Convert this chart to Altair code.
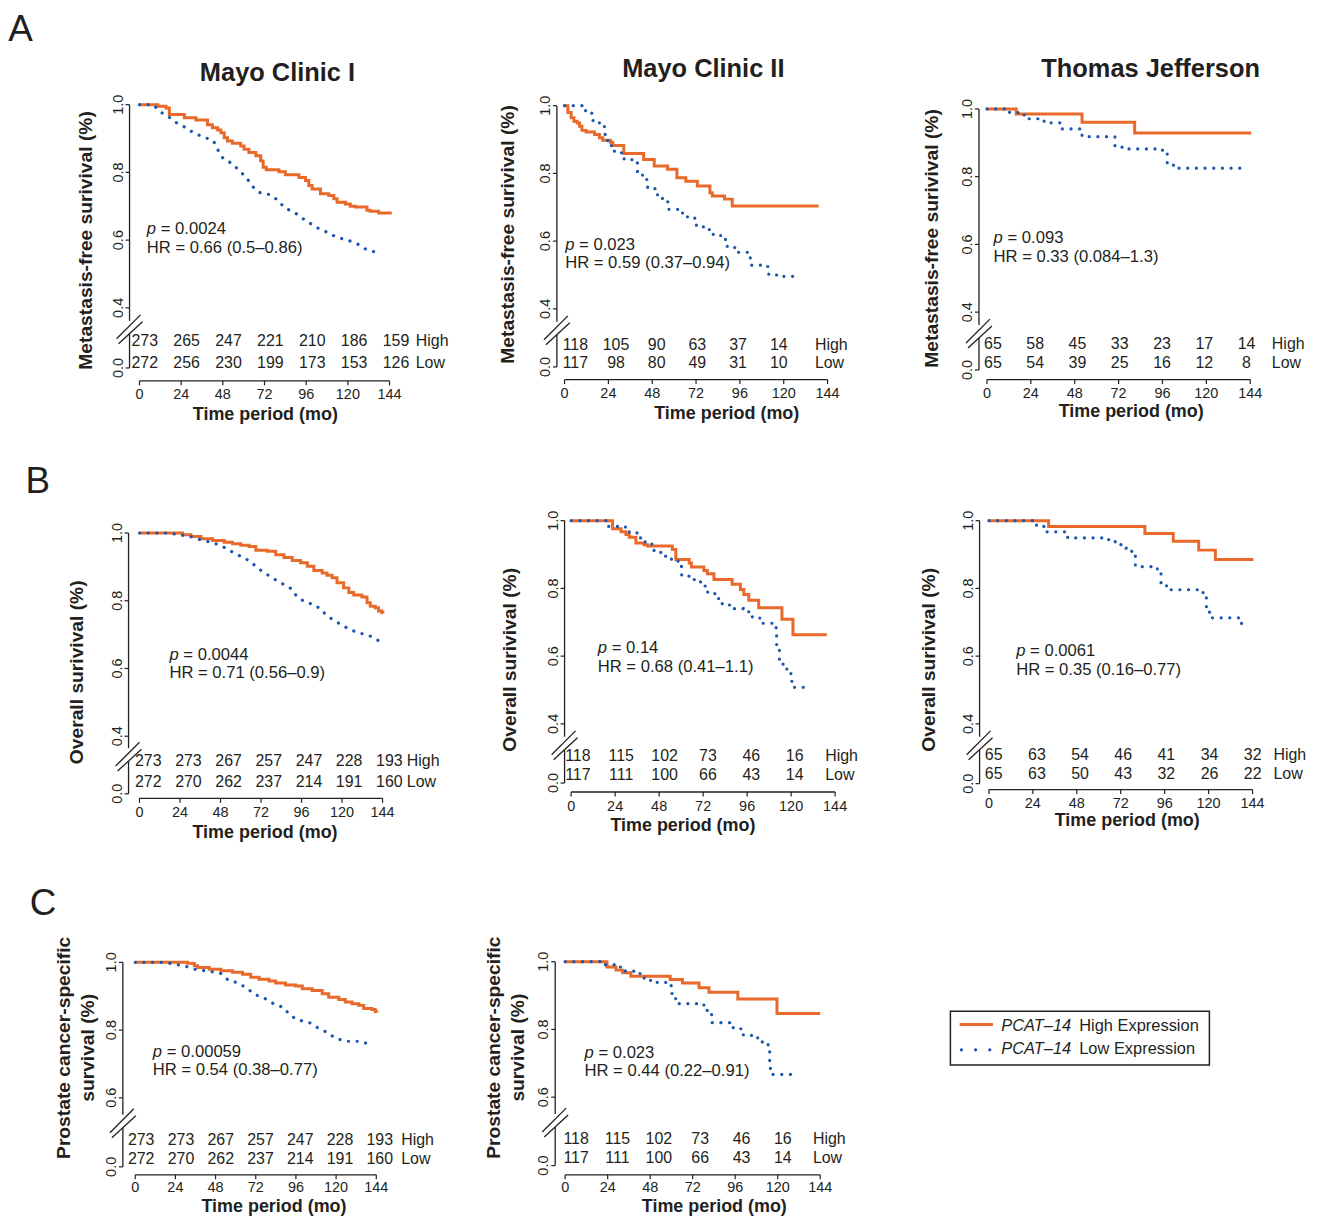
import altair as alt
import pandas as pd

FONT = "Liberation Sans"
INK = "#231F20"
ORANGE = "#E8692A"
BLUE = "#1B56AE"

# ---------------- shared labels ----------------
TICK_MONTHS = [0, 24, 48, 72, 96, 120, 144]
RISK_GROUPS = ["High", "Low"]
X_TITLE = "Time period (mo)"
Y_TITLE_MFS = "Metastasis-free surivival (%)"
Y_TITLE_OS = "Overall surivival (%)"
Y_TITLE_PCSS = ["Prostate cancer-specific", "survival (%)"]
GENE = "PCAT\u201314"
LEGEND_LABELS = ["High Expression", "Low Expression"]

# ---------------- A: metastasis-free survival ----------------
MFS_MAYO1_HIGH_T = [0, 10.5, 15.3, 17.2, 25.8, 32.5, 39.2, 42, 45, 46.9, 48.8, 50.7, 53.5, 58.3, 60.2, 63, 67,
                    69.8, 71.2, 73, 80.3, 84, 91.8, 95.6, 97.5, 99.4, 104.2, 109, 111.9, 113.8, 118.6, 121.4,
                    124.3, 131, 132.9, 137.7, 144.4]
MFS_MAYO1_HIGH_S = [1.0, 0.995, 0.99, 0.971, 0.961, 0.955, 0.941, 0.932, 0.925, 0.917, 0.902, 0.893, 0.886,
                    0.878, 0.868, 0.859, 0.849, 0.834, 0.815, 0.808, 0.802, 0.793, 0.785, 0.776, 0.761, 0.751,
                    0.737, 0.732, 0.722, 0.712, 0.707, 0.700, 0.698, 0.688, 0.685, 0.680, 0.676]
MFS_MAYO1_LOW_T = [0, 8.0, 11.5, 16.8, 21.4, 26.8, 31.6, 37.3, 42.6, 45.3, 48.4, 53.5, 57.4, 61.6, 64.6, 68.8,
                   75.5, 79.9, 83.6, 88.9, 93.7, 98.5, 103.3, 108.6, 113.8, 120.5, 126.2, 131.0, 137.3]
MFS_MAYO1_LOW_S = [1.0, 1.0, 0.980, 0.964, 0.946, 0.932, 0.915, 0.904, 0.893, 0.865, 0.839, 0.826, 0.805, 0.785,
                   0.761, 0.741, 0.734, 0.717, 0.695, 0.683, 0.665, 0.649, 0.634, 0.622, 0.608, 0.599, 0.587,
                   0.571, 0.563]
MFS_MAYO1_RISK_HIGH = [273, 265, 247, 221, 210, 186, 159]
MFS_MAYO1_RISK_LOW = [272, 256, 230, 199, 173, 153, 126]
MFS_MAYO1_P, MFS_MAYO1_HR = "0.0024", "0.66 (0.5\u20130.86)"

MFS_MAYO2_HIGH_T = [0, 1.8, 3.6, 5.1, 6.9, 8.2, 9.5, 11.8, 16.4, 19.1, 20.9, 25.1, 26.4, 32.4, 43.3, 49.1, 56.4,
                    61.5, 66.4, 72.7, 79.6, 80.9, 87.6, 91.8, 139.1]
MFS_MAYO2_HIGH_S = [1.0, 0.980, 0.964, 0.954, 0.949, 0.939, 0.927, 0.922, 0.915, 0.905, 0.898, 0.892, 0.882,
                    0.859, 0.841, 0.822, 0.812, 0.787, 0.777, 0.763, 0.743, 0.733, 0.724, 0.704, 0.704]
MFS_MAYO2_LOW_T = [0, 7.3, 11.5, 14.9, 19.1, 21.8, 23.6, 27.3, 31.5, 36.9, 40.0, 42.7, 45.5, 49.6, 53.6, 56.9,
                   62.4, 67.3, 71.3, 76.0, 81.1, 85.5, 89.1, 93.6, 101.7, 108.7, 111.8, 118.2, 126.0]
MFS_MAYO2_LOW_S = [1.0, 1.0, 0.980, 0.956, 0.939, 0.915, 0.882, 0.861, 0.843, 0.831, 0.806, 0.782, 0.755, 0.737,
                   0.716, 0.694, 0.683, 0.670, 0.647, 0.634, 0.620, 0.605, 0.581, 0.567, 0.529, 0.525, 0.500,
                   0.496, 0.496]
MFS_MAYO2_RISK_HIGH = [118, 105, 90, 63, 37, 14]
MFS_MAYO2_RISK_LOW = [117, 98, 80, 49, 31, 10]
MFS_MAYO2_P, MFS_MAYO2_HR = "0.023", "0.59 (0.37\u20130.94)"

MFS_TJ_HIGH_T = [0, 16, 52, 80.8, 144.5]
MFS_TJ_HIGH_S = [1.0, 0.985, 0.961, 0.929, 0.929]
MFS_TJ_LOW_T = [0, 12, 17, 22, 29, 35, 41, 52, 70, 75, 96, 98.6, 102, 141.6]
MFS_TJ_LOW_S = [1.0, 0.990, 0.982, 0.971, 0.964, 0.959, 0.941, 0.918, 0.887, 0.882, 0.876, 0.836, 0.825, 0.825]
MFS_TJ_RISK_HIGH = [65, 58, 45, 33, 23, 17, 14]
MFS_TJ_RISK_LOW = [65, 54, 39, 25, 16, 12, 8]
MFS_TJ_P, MFS_TJ_HR = "0.093", "0.33 (0.084\u20131.3)"

# ---------------- B: overall survival ----------------
OS_MAYO1_HIGH_T = [0, 25.5, 30.5, 36.4, 43.3, 50.2, 55.1, 60, 64.9, 68.9, 75.7, 80.7, 85.6, 90.5, 95.4, 99.4,
                   103.3, 108.2, 111.1, 114.1, 117, 120.9, 124, 126.9, 131.8, 134.8, 136.7, 139.7, 141.6, 143.6,
                   144.2]
OS_MAYO1_HIGH_S = [1.0, 0.995, 0.990, 0.983, 0.978, 0.973, 0.968, 0.964, 0.960, 0.949, 0.946, 0.936, 0.928,
                   0.919, 0.912, 0.902, 0.889, 0.882, 0.875, 0.868, 0.853, 0.838, 0.824, 0.817, 0.811, 0.794,
                   0.784, 0.779, 0.770, 0.765, 0.762]
OS_MAYO1_LOW_T = [0, 8.5, 16.7, 23.6, 30.5, 36.6, 43.3, 49.2, 54.7, 60.0, 65.5, 69.8, 74.8, 79.5, 84.8, 89.7,
                  93.2, 98.1, 104.4, 108.9, 113.4, 118.3, 123.6, 129.1, 135.8, 141.3]
OS_MAYO1_LOW_S = [1.0, 1.0, 1.0, 0.995, 0.989, 0.979, 0.972, 0.960, 0.945, 0.931, 0.917, 0.897, 0.880, 0.865,
                  0.850, 0.836, 0.813, 0.796, 0.787, 0.766, 0.748, 0.733, 0.718, 0.706, 0.698, 0.683]
OS_MAYO1_RISK_HIGH = [273, 273, 267, 257, 247, 228, 193]
OS_MAYO1_RISK_LOW = [272, 270, 262, 237, 214, 191, 160]
OS_MAYO1_P, OS_MAYO1_HR = "0.0044", "0.71 (0.56\u20130.9)"

OS_MAYO2_HIGH_T = [0, 22.6, 27.2, 29.9, 31.7, 35.3, 39.8, 41.7, 55.2, 57.1, 64.4, 65.6, 72.4, 74.3, 77.9, 87.8,
                   92.3, 94.2, 96.9, 102.3, 115.0, 121.0, 139.5]
OS_MAYO2_HIGH_S = [1.0, 0.976, 0.967, 0.959, 0.951, 0.934, 0.929, 0.925, 0.915, 0.885, 0.875, 0.863, 0.853,
                   0.843, 0.826, 0.812, 0.797, 0.782, 0.765, 0.743, 0.709, 0.663, 0.663]
OS_MAYO2_LOW_T = [0, 8.2, 15.4, 19.6, 27.2, 31.7, 35.9, 40.4, 44.4, 48.9, 54.7, 58.3, 60.3, 66.1, 70.6, 74.3,
                  78.4, 82.4, 87.8, 93.8, 98.7, 102.9, 110.1, 111.8, 112.1, 113.6, 115.6, 119.9, 120.4, 128.0]
OS_MAYO2_LOW_S = [1.0, 1.0, 1.0, 0.983, 0.981, 0.966, 0.949, 0.931, 0.912, 0.895, 0.885, 0.865, 0.836, 0.826,
                  0.807, 0.789, 0.770, 0.751, 0.740, 0.731, 0.716, 0.697, 0.697, 0.665, 0.626, 0.591, 0.562,
                  0.546, 0.508, 0.508]
OS_MAYO2_RISK_HIGH = [118, 115, 102, 73, 46, 16]
OS_MAYO2_RISK_LOW = [117, 111, 100, 66, 43, 14]
OS_MAYO2_P, OS_MAYO2_HR = "0.14", "0.68 (0.41\u20131.1)"

OS_TJ_HIGH_T = [0, 32.6, 85.2, 100.7, 114.6, 123.7, 144.5]
OS_TJ_HIGH_S = [1.0, 0.983, 0.962, 0.939, 0.913, 0.885, 0.885]
OS_TJ_LOW_T = [0, 26, 31, 43, 64, 69, 75, 78, 80, 92, 94, 97, 117, 118.8, 120.5, 138, 140]
OS_TJ_LOW_S = [1.0, 0.983, 0.967, 0.949, 0.944, 0.929, 0.919, 0.895, 0.864, 0.849, 0.814, 0.796, 0.782, 0.743,
               0.713, 0.690, 0.690]
OS_TJ_RISK_HIGH = [65, 63, 54, 46, 41, 34, 32]
OS_TJ_RISK_LOW = [65, 63, 50, 43, 32, 26, 22]
OS_TJ_P, OS_TJ_HR = "0.0061", "0.35 (0.16\u20130.77)"

# ---------------- C: prostate cancer-specific survival ----------------
PCSS_MAYO1_HIGH_T = [0, 31.3, 35.3, 37.3, 44.2, 51.2, 58.1, 64.1, 69, 74, 79.9, 83.9, 89.8, 95.8, 99.8, 105.7,
                     111.7, 115.6, 121.6, 125.5, 129.5, 133.5, 136.5, 141.4, 143.4, 144.2]
PCSS_MAYO1_HIGH_S = [1.0, 0.997, 0.990, 0.985, 0.980, 0.975, 0.971, 0.965, 0.956, 0.950, 0.945, 0.939, 0.933,
                     0.930, 0.922, 0.917, 0.907, 0.897, 0.890, 0.883, 0.878, 0.873, 0.864, 0.861, 0.854, 0.852]
PCSS_MAYO1_LOW_T = [0, 8.1, 16.5, 23.4, 30.3, 36.7, 44.2, 51.2, 55.7, 61.7, 67.1, 71.6, 77.6, 82.9, 88.9, 92.3,
                    97.4, 104.1, 109.3, 114.6, 119.6, 125.9, 133.8, 141.0]
PCSS_MAYO1_LOW_S = [1.0, 1.0, 1.0, 0.995, 0.988, 0.978, 0.974, 0.967, 0.947, 0.939, 0.922, 0.905, 0.893, 0.877,
                    0.866, 0.844, 0.830, 0.822, 0.806, 0.793, 0.776, 0.767, 0.767, 0.757]
PCSS_MAYO1_RISK_HIGH = [273, 273, 267, 257, 247, 228, 193]
PCSS_MAYO1_RISK_LOW = [272, 270, 262, 237, 214, 191, 160]
PCSS_MAYO1_P, PCSS_MAYO1_HR = "0.00059", "0.54 (0.38\u20130.77)"

PCSS_MAYO2_HIGH_T = [0, 23.6, 28.7, 32.4, 37.1, 59.3, 66.2, 75.6, 81.2, 97.5, 119.6, 144.0]
PCSS_MAYO2_HIGH_S = [1.0, 0.984, 0.975, 0.967, 0.957, 0.947, 0.937, 0.923, 0.910, 0.890, 0.847, 0.847]
PCSS_MAYO2_LOW_T = [0, 8.1, 15.9, 21.8, 27.8, 34.0, 40.0, 44.6, 50.8, 56.8, 60.2, 62.4, 69.9, 76.9, 80.2, 82.7,
                    90.5, 94.9, 99.4, 105.2, 110.6, 114.6, 115.5, 115.9, 123.4, 131.3]
PCSS_MAYO2_LOW_S = [1.0, 1.0, 1.0, 0.991, 0.984, 0.972, 0.965, 0.945, 0.939, 0.929, 0.906, 0.876, 0.876, 0.872,
                    0.849, 0.820, 0.820, 0.802, 0.784, 0.775, 0.763, 0.744, 0.706, 0.667, 0.667, 0.667]
PCSS_MAYO2_RISK_HIGH = [118, 115, 102, 73, 46, 16]
PCSS_MAYO2_RISK_LOW = [117, 111, 100, 66, 43, 14]
PCSS_MAYO2_P, PCSS_MAYO2_HR = "0.023", "0.44 (0.22\u20130.91)"

# ---------------- layout (page pixels) ----------------
PX_PER_UNIT = 340.0
CL = [123.0, 557.0, 982.0]      # column left edges
CW = [374.0, 365.0, 280.0]      # column widths
RT = [100.0, 518.0, 937.0]      # row top edges
COL_GAP, ROW_GAP = 60, 139
TITLE_SIZE, YT_SIZE, XT_SIZE = 25.5, 19.3, 18
TICK_SIZE, STAT_SIZE, RISK_SIZE = 14.5, 16.7, 16.0

LAYOUT = {
    "A1": dict(row=0, col=0, x0=140.0, W=251.0, ax=130.0, Y1=101.7, Y0=366.0, Yx=379.0, L=0.4, xlab=18.6,
               title=("Mayo Clinic I", 278.5, 77.5), yt=(87.5, 238.0), xt=(266.3, 418.0),
               stat=(147.3, 231.5, 251.0), risk=(5.3, 42.03, 344.0, 366.3, 417.3), brk=22,
               letter=("A", 8.3, 38.3)),
    "A2": dict(row=0, col=1, x0=566.7, W=264.0, ax=559.0, Y1=102.7, Y0=365.0, Yx=377.7, L=0.4, xlab=18.6,
               title=("Mayo Clinic II", 706.0, 73.5), yt=(510.5, 232.0), xt=(729.5, 417.2),
               stat=(567.3, 247.7, 266.0), risk=(10.8, 40.84, 348.0, 366.0, 818.0), brk=22),
    "A3": dict(row=0, col=2, x0=990.7, W=264.3, ax=982.7, Y1=106.0, Y0=368.0, Yx=377.7, L=0.4, xlab=18.6,
               title=("Thomas Jefferson", 1155.0, 73.5), yt=(936.7, 236.0), xt=(1135.5, 415.5),
               stat=(997.3, 241.0, 259.3), risk=(6.0, 42.43, 347.3, 366.3, 1276.7), brk=22),
    "B1": dict(row=1, col=0, x0=140.0, W=244.0, ax=129.0, Y1=531.7, Y0=793.5, Yx=798.0, L=0.4, xlab=18.6,
               yt=(78.3, 671.5), xt=(266.0, 838.0),
               stat=(170.0, 659.3, 677.7), risk=(8.8, 40.33, 766.0, 786.5, 408.3), brk=21,
               letter=("B", 25.6, 491.7)),
    "B2": dict(row=1, col=1, x0=573.3, W=265.0, ax=566.7, Y1=519.3, Y0=782.7, Yx=791.7, L=0.4, xlab=18.6,
               yt=(513.3, 659.0), xt=(685.5, 830.5),
               stat=(600.0, 652.0, 671.0), risk=(6.7, 43.54, 761.0, 779.2, 828.3), brk=22),
    "B3": dict(row=1, col=2, x0=992.7, W=264.6, ax=983.3, Y1=519.3, Y0=783.3, Yx=789.3, L=0.4, xlab=18.6,
               yt=(933.3, 659.0), xt=(1131.5, 825.5),
               stat=(1020.0, 655.3, 674.3), risk=(4.8, 43.33, 760.0, 778.3, 1278.3), brk=22),
    "C1": dict(row=2, col=0, x0=135.7, W=242.0, ax=123.3, Y1=962.7, Y0=1168.0, Yx=1176.0, L=0.6, xlab=16.8,
               yt=(65.0, 1048.5), xt=(275.0, 1212.8),
               stat=(153.3, 1057.7, 1076.0), risk=(6.0, 39.92, 1146.3, 1164.7, 402.7), brk=26,
               letter=("C", 29.9, 915.5)),
    "C2": dict(row=2, col=1, x0=567.3, W=256.0, ax=557.3, Y1=962.0, Y0=1166.7, Yx=1176.0, L=0.6, xlab=16.8,
               yt=(496.7, 1048.3), xt=(717.0, 1212.8),
               stat=(586.7, 1058.7, 1077.0), risk=(11.0, 41.5, 1145.0, 1164.5, 816.0), brk=26),
}

ONE = pd.DataFrame({"_": [0]})


def txt(text, x, y, size, weight="normal", style="normal", align="left", angle=None, line_height=None):
    props = dict(font=FONT, fontSize=size, fontWeight=weight, fontStyle=style, align=align,
                 baseline="alphabetic", color=INK)
    if angle is not None:
        props["angle"] = angle
    if line_height is not None:
        props["lineHeight"] = line_height
    return alt.Chart(ONE).mark_text(**props).encode(x=alt.value(x), y=alt.value(y), text=alt.value(text))


def km_panel(key, ytitle, hi_t, hi_s, lo_t, lo_s, risk_hi, risk_lo, p_val, hr_txt, low_interp):
    c = LAYOUT[key]
    ox, oy = CL[c["col"]], RT[c["row"]]
    width = CW[c["col"]]
    k = c["W"] / 144.0

    def rx(a):
        return round(a - ox, 2)

    def ry(a):
        return round(a - oy, 2)

    xs = alt.Scale(domain=[(ox - c["x0"]) / k, (ox + width - c["x0"]) / k], nice=False, zero=False)
    h = c["Yx"] - oy
    top = 1.0 + (c["Y1"] - oy) / PX_PER_UNIT
    ys = alt.Scale(domain=[top - h / PX_PER_UNIT, top], nice=False, zero=False)
    L = c["L"]
    zero_v = 1.0 - (c["Y0"] - c["Y1"]) / PX_PER_UNIT
    reg_ticks = [round(L + 0.2 * i, 1) for i in range(int(round((1.0 - L) / 0.2)) + 1)]
    ytick_df = pd.DataFrame({"v": [round(zero_v, 4)] + reg_ticks,
                             "lab": ["0.0"] + [f"{v:.1f}" for v in reg_ticks]})
    xtick_df = pd.DataFrame({"t": TICK_MONTHS, "lab": [str(m) for m in TICK_MONTHS]})

    X = lambda f: alt.X(f, scale=xs, axis=None)
    Y = lambda f: alt.Y(f, scale=ys, axis=None)

    layers = []
    layers.append(
        alt.Chart(pd.DataFrame({"t": hi_t, "s": hi_s}))
        .mark_line(color=ORANGE, strokeWidth=3, interpolate="step-after")
        .encode(x=X("t:Q"), y=Y("s:Q"))
    )
    layers.append(
        alt.Chart(pd.DataFrame({"t": lo_t, "s": lo_s}))
        .mark_line(color=BLUE, strokeWidth=3.2, strokeDash=[0.1, 8.6], strokeCap="round", interpolate=low_interp)
        .encode(x=X("t:Q"), y=Y("s:Q"))
    )

    # y axis line with break marks
    bc = c["Y1"] + (1.0 - L) * PX_PER_UNIT + c["brk"]
    ax = rx(c["ax"])
    seg = alt.Chart(ONE).mark_rule(color=INK, strokeWidth=1.3)
    layers.append(seg.encode(x=alt.value(ax), y=alt.value(ry(c["Y1"])), y2=alt.value(ry(bc - 9))))
    layers.append(seg.encode(x=alt.value(ax), y=alt.value(ry(bc + 4)), y2=alt.value(ry(c["Y0"]))))
    layers.append(seg.encode(x=alt.value(ax - 13), x2=alt.value(ax + 11),
                             y=alt.value(ry(bc + 9)), y2=alt.value(ry(bc - 15))))
    layers.append(seg.encode(x=alt.value(ax - 11), x2=alt.value(ax + 13),
                             y=alt.value(ry(bc + 14)), y2=alt.value(ry(bc - 8))))
    # y ticks + labels
    layers.append(alt.Chart(ytick_df).mark_rule(color=INK, strokeWidth=1.2)
                  .encode(y=Y("v:Q"), x=alt.value(ax - 4), x2=alt.value(ax)))
    layers.append(alt.Chart(ytick_df).mark_text(font=FONT, fontSize=TICK_SIZE, angle=270, align="center",
                                                baseline="alphabetic", color=INK)
                  .encode(y=Y("v:Q"), x=alt.value(ax - 7), text="lab:N"))
    # x axis line from first to last tick, ticks and labels
    layers.append(
        alt.Chart(pd.DataFrame({"a": [TICK_MONTHS[0]], "b": [TICK_MONTHS[-1]]}))
        .mark_rule(color=INK, strokeWidth=1.3)
        .encode(x=X("a:Q"), x2="b:Q", y=alt.value(h))
    )
    layers.append(alt.Chart(xtick_df).mark_rule(color=INK, strokeWidth=1.2)
                  .encode(x=X("t:Q"), y=alt.value(h), y2=alt.value(h + 4.5)))
    layers.append(alt.Chart(xtick_df).mark_text(font=FONT, fontSize=TICK_SIZE, align="center",
                                                baseline="alphabetic", color=INK)
                  .encode(x=X("t:Q"), y=alt.value(h + c["xlab"]), text="lab:N"))

    # statistics
    sx, b1, b2 = c["stat"]
    layers.append(txt("p", rx(sx), ry(b1), STAT_SIZE, style="italic"))
    layers.append(txt("= " + p_val, rx(sx + 14), ry(b1), STAT_SIZE))
    layers.append(txt("HR = " + hr_txt, rx(sx), ry(b2), STAT_SIZE))

    # number at risk table
    off, step, bh, bl, lab_x = c["risk"]
    rdf = pd.DataFrame({"t": [(off + i * step) / k for i in range(len(risk_hi))],
                        "hi": risk_hi, "lo": risk_lo})
    for col_name, base in (("hi", bh), ("lo", bl)):
        layers.append(
            alt.Chart(rdf)
            .mark_text(font=FONT, fontSize=RISK_SIZE, align="center", baseline="alphabetic", color=INK)
            .encode(x=X("t:Q"), y=alt.value(ry(base)), text=alt.Text(f"{col_name}:Q", format="d"))
        )
    layers.append(txt(RISK_GROUPS[0], rx(lab_x), ry(bh), RISK_SIZE))
    layers.append(txt(RISK_GROUPS[1], rx(lab_x), ry(bl), RISK_SIZE))

    # titles
    ytx, yty = c["yt"]
    layers.append(txt(ytitle, rx(ytx + 0.26 * YT_SIZE), ry(yty), YT_SIZE, weight="bold", align="center",
                      angle=270, line_height=24.5))
    xtx, xtb = c["xt"]
    layers.append(txt(X_TITLE, rx(xtx), ry(xtb), XT_SIZE, weight="bold", align="center"))
    if "title" in c:
        tt, tx, tb = c["title"]
        layers.append(txt(tt, rx(tx), ry(tb), TITLE_SIZE, weight="bold", align="center"))
    if "letter" in c:
        lt, lx, lb = c["letter"]
        layers.append(txt(lt, rx(lx), ry(lb), 37))

    return alt.layer(*layers).properties(width=width, height=h)


def legend_panel():
    ox, oy = CL[2], RT[2]

    def rx(a):
        return round(a - ox, 2)

    def ry(a):
        return round(a - oy, 2)

    layers = [
        alt.Chart(ONE).mark_rect(fill="white", stroke=INK, strokeWidth=1.5)
        .encode(x=alt.value(rx(954)), x2=alt.value(rx(1214)), y=alt.value(ry(1011.7)), y2=alt.value(ry(1065.7))),
        alt.Chart(ONE).mark_rule(color=ORANGE, strokeWidth=3)
        .encode(x=alt.value(rx(963.3)), x2=alt.value(rx(996.7)), y=alt.value(ry(1025.0))),
        alt.Chart(ONE).mark_rule(color=BLUE, strokeWidth=3.2, strokeDash=[0.1, 14.15], strokeCap="round")
        .encode(x=alt.value(rx(965.0)), x2=alt.value(rx(993.6)), y=alt.value(ry(1050.5))),
        txt(GENE, rx(1005.0), ry(1031.7), 16.5, style="italic"),
        txt(LEGEND_LABELS[0], rx(1083.3), ry(1031.7), 16.5),
        txt(GENE, rx(1005.0), ry(1055.0), 16.5, style="italic"),
        txt(LEGEND_LABELS[1], rx(1083.3), ry(1055.0), 16.5),
    ]
    return alt.layer(*layers).properties(width=CW[2], height=200)


cells = [
    km_panel("A1", Y_TITLE_MFS, MFS_MAYO1_HIGH_T, MFS_MAYO1_HIGH_S, MFS_MAYO1_LOW_T, MFS_MAYO1_LOW_S,
             MFS_MAYO1_RISK_HIGH, MFS_MAYO1_RISK_LOW, MFS_MAYO1_P, MFS_MAYO1_HR, "linear"),
    km_panel("A2", Y_TITLE_MFS, MFS_MAYO2_HIGH_T, MFS_MAYO2_HIGH_S, MFS_MAYO2_LOW_T, MFS_MAYO2_LOW_S,
             MFS_MAYO2_RISK_HIGH, MFS_MAYO2_RISK_LOW, MFS_MAYO2_P, MFS_MAYO2_HR, "step-after"),
    km_panel("A3", Y_TITLE_MFS, MFS_TJ_HIGH_T, MFS_TJ_HIGH_S, MFS_TJ_LOW_T, MFS_TJ_LOW_S,
             MFS_TJ_RISK_HIGH, MFS_TJ_RISK_LOW, MFS_TJ_P, MFS_TJ_HR, "step-after"),
    km_panel("B1", Y_TITLE_OS, OS_MAYO1_HIGH_T, OS_MAYO1_HIGH_S, OS_MAYO1_LOW_T, OS_MAYO1_LOW_S,
             OS_MAYO1_RISK_HIGH, OS_MAYO1_RISK_LOW, OS_MAYO1_P, OS_MAYO1_HR, "linear"),
    km_panel("B2", Y_TITLE_OS, OS_MAYO2_HIGH_T, OS_MAYO2_HIGH_S, OS_MAYO2_LOW_T, OS_MAYO2_LOW_S,
             OS_MAYO2_RISK_HIGH, OS_MAYO2_RISK_LOW, OS_MAYO2_P, OS_MAYO2_HR, "step-after"),
    km_panel("B3", Y_TITLE_OS, OS_TJ_HIGH_T, OS_TJ_HIGH_S, OS_TJ_LOW_T, OS_TJ_LOW_S,
             OS_TJ_RISK_HIGH, OS_TJ_RISK_LOW, OS_TJ_P, OS_TJ_HR, "step-after"),
    km_panel("C1", Y_TITLE_PCSS, PCSS_MAYO1_HIGH_T, PCSS_MAYO1_HIGH_S, PCSS_MAYO1_LOW_T, PCSS_MAYO1_LOW_S,
             PCSS_MAYO1_RISK_HIGH, PCSS_MAYO1_RISK_LOW, PCSS_MAYO1_P, PCSS_MAYO1_HR, "linear"),
    km_panel("C2", Y_TITLE_PCSS, PCSS_MAYO2_HIGH_T, PCSS_MAYO2_HIGH_S, PCSS_MAYO2_LOW_T, PCSS_MAYO2_LOW_S,
             PCSS_MAYO2_RISK_HIGH, PCSS_MAYO2_RISK_LOW, PCSS_MAYO2_P, PCSS_MAYO2_HR, "step-after"),
    legend_panel(),
]

chart = (
    alt.concat(*cells, columns=3)
    .properties(spacing={"row": ROW_GAP, "column": COL_GAP}, bounds="flush", align="each",
                padding={"left": 0, "top": 1, "right": 5, "bottom": 0})
    .configure_view(stroke=None)
)

chart.save("out.html", embed_options={"renderer": "svg", "actions": False})
